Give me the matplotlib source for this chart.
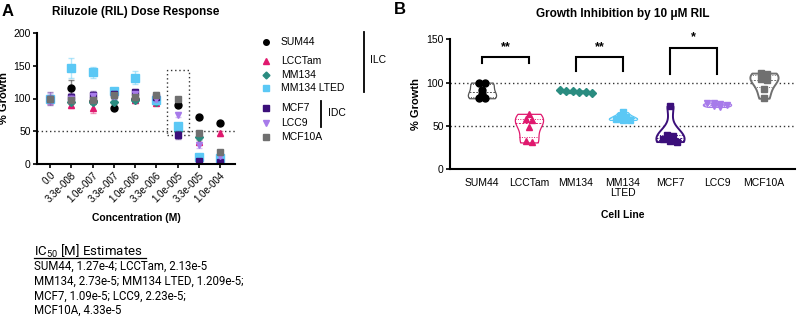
import numpy as np
import matplotlib
matplotlib.use("Agg")
from matplotlib import pyplot as plt
from matplotlib.patches import Rectangle

plt.rcParams['font.family'] = ['Liberation Sans', 'DejaVu Sans']
plt.rcParams['mathtext.fontset'] = 'custom'
plt.rcParams['mathtext.rm'] = 'Roboto'

# ---- Panel A: dose response (mean % growth, error) ----
conc_labels = ["0.0", "3.3e-008", "1.0e-007", "3.3e-007", "1.0e-006",
               "3.3e-006", "1.0e-005", "3.3e-005", "1.0e-004"]
cell_lines = ["SUM44", "LCCTam", "MM134", "MM134 LTED", "MCF7", "LCC9", "MCF10A"]

sum44 = [100, 116, 96, 85, 100, 98, 90, 71, 62]
lcctam = [97, 90, 86, 98, 97, 93, 48, 34, 47]
mm134 = [100, 95, 95, 95, 98, 95, 50, 41, 5]
lted = [100, 147, 140, 111, 132, 98, 58, 11, 9]
mcf7 = [100, 103, 106, 107, 110, 103, 44, 5, 3]
lcc9 = [100, 100, 104, 104, 107, 100, 75, 29, 12]
mcf10a = [100, 97, 98, 105, 102, 106, 100, 48, 18]

sum44_err = [5, 12, 5, 3, 5, 4, 3, 3, 3]
lcctam_err = [5, 4, 8, 5, 4, 3, 4, 4, 4]
mm134_err = [4, 4, 4, 4, 4, 4, 4, 4, 3]
lted_err = [5, 15, 8, 5, 10, 4, 4, 3, 3]
mcf7_err = [10, 5, 5, 5, 5, 5, 6, 2, 2]
lcc9_err = [8, 5, 5, 5, 5, 5, 4, 4, 3]
mcf10a_err = [4, 4, 4, 4, 4, 4, 3, 3, 3]

# ---- Panel B: growth at 10 uM, replicates ----
b_sum44 = [100, 100, 92, 87, 82, 82]
b_lcctam = [64, 58, 57, 49, 33, 31]
b_mm134 = [91, 90, 90, 89, 89, 88]
b_lted = [66, 62, 60, 58, 57, 57]
b_mcf7 = [73, 40, 38, 35, 33, 32]
b_lcc9 = [77, 76, 75, 74, 73, 72]
b_mcf10a = [111, 110, 104, 103, 93, 82]
b_ticklabels = ["SUM44", "LCCTam", "MM134", "MM134\nLTED", "MCF7", "LCC9", "MCF10A"]

ic50_lines = ["SUM44, 1.27e-4; LCCTam, 2.13e-5",
              "MM134, 2.73e-5; MM134 LTED, 1.209e-5;",
              "MCF7, 1.09e-5; LCC9, 2.23e-5;",
              "MCF10A, 4.33e-5"]

colors = ["#000000", "#E0196E", "#2A8C80", "#5BC8F5", "#3B0F7A", "#A77BEA", "#707070"]
markers = ["o", "^", "D", "s", "s", "v", "s"]
msizes = [5, 5, 4, 6, 5, 5, 5]

W, H = 797, 317
fig = plt.figure(figsize=(W / 100, H / 100), dpi=100)


def px_axes(x0, y0, x1, y1):
    return fig.add_axes([x0 / W, 1 - y1 / H, (x1 - x0) / W, (y1 - y0) / H])


def style_axes(ax):
    for s in ["top", "right"]:
        ax.spines[s].set_visible(False)
    for s in ["left", "bottom"]:
        ax.spines[s].set_linewidth(1.5)
    ax.tick_params(width=1.2, length=3, labelsize=7.5, pad=1.5)


# Panel A
ax = px_axes(37, 33, 235, 164)
style_axes(ax)
means = [sum44, lcctam, mm134, lted, mcf7, lcc9, mcf10a]
errs = [sum44_err, lcctam_err, mm134_err, lted_err, mcf7_err, lcc9_err, mcf10a_err]
x = np.arange(len(conc_labels))
for m, e, c, mk, ms in zip(means, errs, colors, markers, msizes):
    ax.errorbar(x, m, yerr=e, fmt='none', ecolor=c, alpha=0.45, elinewidth=1,
                capsize=2, capthick=1)
    ax.plot(x, m, ls='none', marker=mk, color=c, ms=ms, mec=c)
ax.axhline(50, ls=(0, (1, 2)), color='#333333', lw=1, zorder=0)
ax.add_patch(Rectangle((5.5, 44.6), 1.04, 99, fill=False, ls=(0, (1, 2)),
                       lw=1, ec='#333333'))
ax.set_xlim(-0.61, 8.7)
ax.set_ylim(0, 200)
ax.set_yticks([0, 50, 100, 150, 200])
ax.set_xticks(x)
ax.set_xticklabels(conc_labels, rotation=45, ha='right', rotation_mode='anchor',
                   fontsize=7)
ax.set_ylabel("% Growth", fontsize=8, fontweight='bold', labelpad=3)
ax.set_xlabel("Concentration (M)", fontsize=7.5, fontweight='bold', labelpad=6)
ax.set_title("Riluzole (RIL) Dose Response", fontsize=8.5, fontweight='bold', pad=13)


# Panel B
def kde_outline(vals, n=100):
    vals = np.asarray(vals, float)
    bw = 1.06 * vals.std() * len(vals) ** (-0.2)
    ys = np.linspace(vals.min(), vals.max(), n)
    dens = np.exp(-0.5 * ((ys[:, None] - vals[None, :]) / bw) ** 2).sum(1)
    return ys, dens / dens.max()


def swarm(vals, step=0.14, tol=3.5):
    vals = np.asarray(vals, float)
    order = np.argsort(-vals)
    offs = np.zeros(len(vals))
    rows = []
    for i in order:
        if rows and abs(vals[rows[-1][0]] - vals[i]) < tol:
            rows[-1].append(i)
        else:
            rows.append([i])
    for r in rows:
        k = len(r)
        for j, i in enumerate(r):
            offs[i] = (j - (k - 1) / 2) * step
    return offs


bx = px_axes(450, 39.3, 795, 169.3)
style_axes(bx)
groups = [b_sum44, b_lcctam, b_mm134, b_lted, b_mcf7, b_lcc9, b_mcf10a]
bx.axhline(100, ls=(0, (1, 2)), color='#333333', lw=1, zorder=0)
bx.axhline(50, ls=(0, (1, 2)), color='#333333', lw=1, zorder=0)
for i, (g, c, mk) in enumerate(zip(groups, colors, markers)):
    ys, d = kde_outline(g)
    hw = 0.3 * d
    edge = '#555555' if i == 0 else c
    bx.fill_betweenx(ys, i - hw, i + hw, facecolor='white', edgecolor=edge,
                     lw=1.4 if i in (4, 6) else 0.9, zorder=2)
    for q, ls in [(25, (0, (1, 1.5))), (50, (0, (2, 1.5))), (75, (0, (1, 1.5)))]:
        qv = np.percentile(g, q)
        w = np.interp(qv, ys, hw)
        bx.plot([i - w, i + w], [qv, qv], color=edge, lw=0.7, ls=ls, zorder=3)
    offs = swarm(g)
    bx.plot(i + offs, g, ls='none', marker=mk, color=c, ms=5 if mk != 'D' else 4,
            zorder=4)

# significance brackets
brackets = [(0, 1, 130, 123, 123, "**", 134),
            (2, 3, 130, 114, 114, "**", 134),
            (4, 5, 140.5, 110, 110, "*", 145)]
for x0, x1, top, l0, l1, txt, ty in brackets:
    bx.plot([x0, x0, x1, x1], [l0, top, top, l1], color='black', lw=1.5,
            solid_joinstyle='miter', zorder=5)
    bx.text((x0 + x1) / 2, ty, txt, ha='center', va='bottom', fontsize=9,
            fontweight='bold')

bx.set_xlim(-0.68, 6.66)
bx.set_ylim(0, 150)
bx.set_yticks([0, 50, 100, 150])
bx.set_xticks(np.arange(len(b_ticklabels)))
bx.set_xticklabels(b_ticklabels, fontsize=7.5, linespacing=1.0)
bx.tick_params(axis='x', length=0, pad=6)
bx.set_ylabel("% Growth", fontsize=8, fontweight='bold', labelpad=4)
bx.set_xlabel("Cell Line", fontsize=7.5, fontweight='bold', labelpad=9)
bx.set_title("Growth Inhibition by 10 \u03bcM RIL", fontsize=8.5, fontweight='bold',
             pad=16, x=0.5)

# overlay in pixel coordinates for panel letters, legend, IC50 notes
ov = fig.add_axes([0, 0, 1, 1], zorder=10)
ov.set_xlim(0, W)
ov.set_ylim(H, 0)
ov.axis('off')
ov.text(2, 4, "A", fontsize=12, fontweight='bold', va='top')
ov.text(394, 2, "B", fontsize=12, fontweight='bold', va='top')

leg_y = [42.3, 60.7, 75, 88.3, 107.7, 122.7, 136.7]
for name, c, mk, yy in zip(cell_lines, colors, markers, leg_y):
    ov.plot(266, yy, marker=mk, color=c, ms=4 if mk != 'D' else 3.5)
    ov.text(280.7, yy, name, fontsize=7.5, va='center')
ov.plot([364.3, 364.3], [31.7, 91.7], color='black', lw=1.3)
ov.text(370, 60, "ILC", fontsize=7.5, va='center')
ov.plot([321, 321], [101, 127.3], color='black', lw=1.3)
ov.text(327.7, 113, "IDC", fontsize=7.5, va='center')

ov.text(34, 256, r"IC$_{\mathrm{50}}$ [M] Estimates", fontsize=9.5, family='Roboto',
        va='baseline')
ov.plot([34, 146], [258, 258], color='black', lw=0.9)
for yy, line in zip([270, 285, 299.5, 314], ic50_lines):
    ov.text(34, yy, line, fontsize=8.3, family='Roboto', va='baseline')

fig.savefig("out.png", dpi=100)
